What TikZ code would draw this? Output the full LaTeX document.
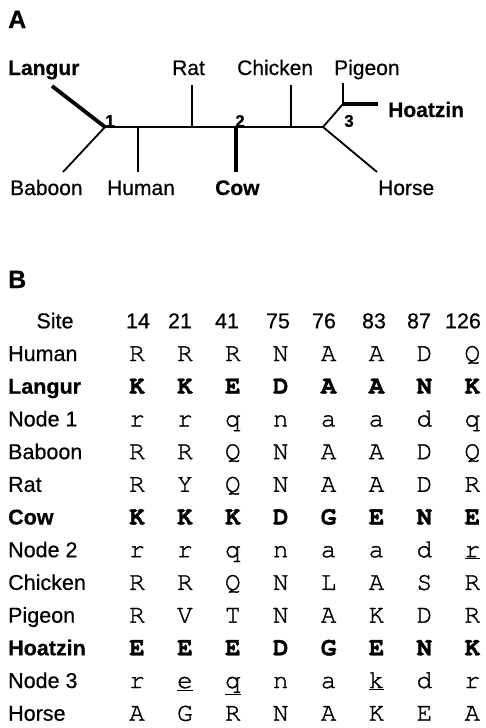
\documentclass[tikz,border=0pt]{standalone}
\usepackage{fontspec}
\setmainfont{Liberation Sans}[FakeBold=0.5]
\newfontfamily\courfont{TeX Gyre Cursor}[FakeBold=1.2]
\begin{document}
\begin{tikzpicture}[x=1pt,y=-1pt,
  panel/.style={font=\fontsize{25}{29}\selectfont\bfseries, inner sep=0pt, anchor=base west},
  taxon/.style={font=\fontsize{21}{25}\selectfont, inner sep=0pt, anchor=base west},
  taxonb/.style={taxon, font=\fontsize{21}{25}\selectfont\bfseries},
  nodenum/.style={font=\fontsize{17}{20}\selectfont\bfseries, inner sep=0pt},
  branch/.style={line width=1.8pt, line join=miter},
  boldbranch/.style={line width=3.8pt},
  rowlab/.style={inner sep=0pt, anchor=base west},
  sitelab/.style={font=\fontsize{21.5}{25}\selectfont, inner sep=0pt, anchor=base},
  residue/.style={inner sep=0pt, anchor=base},
]
\useasboundingbox (0,0) rectangle (486,728);

% ---------- panel A: unrooted tree ----------
\node[panel] (pA) at (8,28) {A};

\coordinate (n1) at (105,127);
\coordinate (hum) at (138,127);
\coordinate (rat) at (192,127);
\coordinate (n2) at (236,127);
\coordinate (chk) at (291,127);
\coordinate (n4) at (323,127);
\coordinate (n3) at (343,104);

\coordinate (tLangur) at (52,86);
\coordinate (tBaboon) at (63,172);
\coordinate (tHuman) at (138,172);
\coordinate (tRat) at (192,85);
\coordinate (tCow) at (236,172);
\coordinate (tChicken) at (291,85);
\coordinate (tPigeon) at (343,83);
\coordinate (tHoatzin) at (378,104);
\coordinate (tHorse) at (377,172);

\draw[branch] (tBaboon) -- (n1) -- (n4);
\draw[boldbranch] (tLangur) -- (n1);
\draw[branch] (hum) -- (tHuman);
\draw[branch] (rat) -- (tRat);
\draw[boldbranch] (n2) -- (tCow);
\draw[branch] (chk) -- (tChicken);
\draw[branch] (tHorse) -- (n4) -- (n3) -- (tPigeon);
\draw[boldbranch] (n3) -- (tHoatzin);

\node[nodenum] (k1) at (110,121) {1};
\node[nodenum] (k2) at (240,121) {2};
\node[nodenum] (k3) at (349,121) {3};

\node[taxonb] (Langur) at (8,75) {Langur};
\node[taxon] (Rat) at (172,75) {Rat};
\node[taxon] (Chicken) at (237,75) {Chicken};
\node[taxon] (Pigeon) at (334,75) {Pigeon};
\node[taxonb] (Hoatzin) at (388,117) {Hoatzin};
\node[taxon] (Baboon) at (10,195) {Baboon};
\node[taxon] (Human) at (107,195) {Human};
\node[taxonb] (Cow) at (215,195) {Cow};
\node[taxon] (Horse) at (378,195) {Horse};

% ---------- panel B: residues at selected sites ----------
\node[panel] (pB) at (8,288) {B};

\node[sitelab] (site) at (55,328.3) {Site};
\foreach \num/\xx [count=\j] in {14/138,21/180,41/227,75/278,76/324,83/374,87/419,126/463}
  \node[sitelab] (h\j) at (\xx,328.3) {\num};

\foreach \lab/\wt/\seq [count=\i] in {
  Human/\mdseries/{R,R,R,N,A,A,D,Q},
  Langur/\bfseries/{K,K,E,D,A,A,N,K},
  Node 1/\mdseries/{r,r,q,n,a,a,d,q},
  Baboon/\mdseries/{R,R,Q,N,A,A,D,Q},
  Rat/\mdseries/{R,Y,Q,N,A,A,D,R},
  Cow/\bfseries/{K,K,K,D,G,E,N,E},
  Node 2/\mdseries/{r,r,q,n,a,a,d,\underline{r}},
  Chicken/\mdseries/{R,R,Q,N,L,A,S,R},
  Pigeon/\mdseries/{R,V,T,N,A,K,D,R},
  Hoatzin/\bfseries/{E,E,E,D,G,E,N,K},
  Node 3/\mdseries/{r,\underline{e},\underline{q},n,a,\underline{k},d,r},
  Horse/\mdseries/{A,G,R,N,A,K,E,A}} {
  \node[rowlab, font=\fontsize{21.5}{25}\selectfont\wt] (row\i) at (8,328.3+32.7*\i) {\lab};
  \foreach \res [count=\j] in \seq
    \node[residue, font=\fontsize{26}{30}\selectfont\courfont\wt] (c\i-\j)
      at (137+47.9*\j-47.9, 328.3+32.7*\i) {\res};
}
\end{tikzpicture}
\end{document}
